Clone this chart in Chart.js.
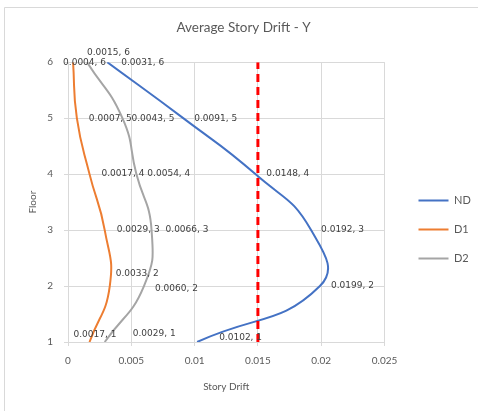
<!DOCTYPE html>
<html>
<head>
<meta charset="utf-8">
<script src="https://cdn.jsdelivr.net/npm/chart.js@4/dist/chart.umd.min.js"></script>
<style>
  html, body { margin: 0; padding: 0; background: #ffffff; }
  #wrap { width: 478px; height: 411px; }
</style>
</head>
<body>
<div id="wrap"><canvas id="drift" width="478" height="411"></canvas></div>
<script>
// Storey levels and average storey drift (Y direction) per case
const floors = [1, 2, 3, 4, 5, 6];
const driftND = [0.0102, 0.0199, 0.0192, 0.0148, 0.0091, 0.0031];
const driftD1 = [0.0017, 0.0033, 0.0029, 0.0017, 0.0007, 0.0004];
const driftD2 = [0.0029, 0.0060, 0.0066, 0.0054, 0.0043, 0.0015];
const driftLimit = 0.015;
const xTicks = [0, 0.005, 0.01, 0.015, 0.02, 0.025];

const toPoints = (xs) => xs.map((x, i) => ({ x: x, y: floors[i] }));

// label placement: [dx to left edge, dy] relative to each point, per floor
const labelOffsets = {
  ND: [[22, -4], [11, 0], [10, 0], [11, 0], [11, 0], [14, 0]],
  D1: [[-16, -7], [6, -12], [12, 0], [12, 0], [12, 0], [-10, 0]],
  D2: [[28, -8], [11, 3], [14, 0], [11, 0], [9, 0], [0, -10]]
};

const TEXT = '#595959';
const GRID = '#d9d9d9';

// thin frame along the top and left of the chart
const framePlugin = {
  id: 'frame',
  beforeDraw(chart) {
    const ctx = chart.ctx;
    ctx.save();
    ctx.fillStyle = '#ffffff';
    ctx.fillRect(0, 0, chart.width, chart.height);
    ctx.strokeStyle = GRID;
    ctx.lineWidth = 1;
    ctx.beginPath();
    ctx.moveTo(4.5, chart.height);
    ctx.lineTo(4.5, 7.5);
    ctx.lineTo(chart.width, 7.5);
    ctx.stroke();
    ctx.restore();
  }
};

// "x, floor" value labels beside each point
const valueLabels = {
  id: 'valueLabels',
  afterDatasetsDraw(chart) {
    const ctx = chart.ctx;
    ctx.save();
    ctx.font = '9px "DejaVu Sans"';
    ctx.fillStyle = '#404040';
    ctx.textAlign = 'left';
    ctx.textBaseline = 'middle';
    chart.data.datasets.forEach((ds, di) => {
      const offs = labelOffsets[ds.label];
      if (!offs) return;
      const meta = chart.getDatasetMeta(di);
      meta.data.forEach((pt, j) => {
        const v = ds.data[j];
        const txt = v.x.toFixed(4) + ', ' + v.y;
        ctx.fillText(txt, pt.x + offs[j][0], pt.y + offs[j][1]);
      });
    });
    ctx.restore();
  }
};

new Chart(document.getElementById('drift'), {
  type: 'scatter',
  data: {
    datasets: [
      {
        label: 'Limit',
        data: [{ x: driftLimit, y: floors[0] }, { x: driftLimit, y: floors[floors.length - 1] }],
        showLine: true,
        borderColor: '#ff0000',
        borderWidth: 3,
        borderDash: [8, 5],
        pointRadius: 0,
        tension: 0
      },
      {
        label: 'ND',
        data: toPoints(driftND),
        showLine: true,
        borderColor: '#4472c4',
        backgroundColor: '#4472c4',
        borderWidth: 2,
        pointRadius: 0,
        tension: 0.5
      },
      {
        label: 'D1',
        data: toPoints(driftD1),
        showLine: true,
        borderColor: '#ed7d31',
        backgroundColor: '#ed7d31',
        borderWidth: 2,
        pointRadius: 0,
        tension: 0.5
      },
      {
        label: 'D2',
        data: toPoints(driftD2),
        showLine: true,
        borderColor: '#a5a5a5',
        backgroundColor: '#a5a5a5',
        borderWidth: 2,
        pointRadius: 0,
        tension: 0.5
      }
    ]
  },
  options: {
    responsive: false,
    animation: false,
    devicePixelRatio: 1,
    layout: { padding: { left: 8, top: 8, right: -1, bottom: 0 } },
    plugins: {
      title: {
        display: true,
        text: 'Average Story Drift - Y',
        color: TEXT,
        font: { family: 'Lato', size: 13.5, weight: 'normal' },
        padding: { top: 12, bottom: 26 }
      },
      legend: {
        display: true,
        position: 'right',
        title: { display: true, text: '', font: { size: 10 }, padding: { top: 28, bottom: 0 } },
        labels: {
          usePointStyle: true,
          pointStyle: 'line',
          pointStyleWidth: 30,
          padding: 18,
          color: TEXT,
          font: { family: 'Lato', size: 11 },
          filter: (item) => item.text !== 'Limit'
        }
      },
      tooltip: { enabled: false }
    },
    scales: {
      x: {
        type: 'linear',
        position: 'bottom',
        min: xTicks[0],
        max: xTicks[xTicks.length - 1],
        afterBuildTicks: (s) => { s.ticks = xTicks.map((v) => ({ value: v })); },
        afterFit: (s) => { s.height = 69; },
        grid: { color: GRID, lineWidth: 1, tickLength: 4 },
        border: { color: GRID },
        ticks: {
          color: TEXT,
          padding: 9,
          font: { family: 'Lato', size: 10 },
          callback: (v) => String(+Number(v).toFixed(3))
        },
        title: {
          display: true,
          text: 'Story Drift',
          color: TEXT,
          font: { family: 'Lato', size: 10 },
          padding: { top: 0, bottom: 18 }
        }
      },
      y: {
        type: 'linear',
        position: 'left',
        min: floors[0],
        max: floors[floors.length - 1],
        afterBuildTicks: (s) => { s.ticks = floors.map((v) => ({ value: v })); },
        afterFit: (s) => { s.width = 60; },
        grid: { color: GRID, lineWidth: 1, tickLength: 4 },
        border: { color: GRID },
        ticks: {
          color: TEXT,
          padding: 11,
          font: { family: 'Lato', size: 10 }
        },
        title: {
          display: true,
          text: 'Floor',
          color: TEXT,
          font: { family: 'Lato', size: 10 },
          padding: { top: 19, bottom: 0 }
        }
      },
      gap: {
        type: 'linear',
        position: 'right',
        display: true,
        grid: { display: false, drawTicks: false },
        border: { display: false },
        ticks: { display: false },
        afterFit: (s) => { s.width = 16; }
      }
    }
  },
  plugins: [framePlugin, valueLabels]
});
</script>
</body>
</html>
